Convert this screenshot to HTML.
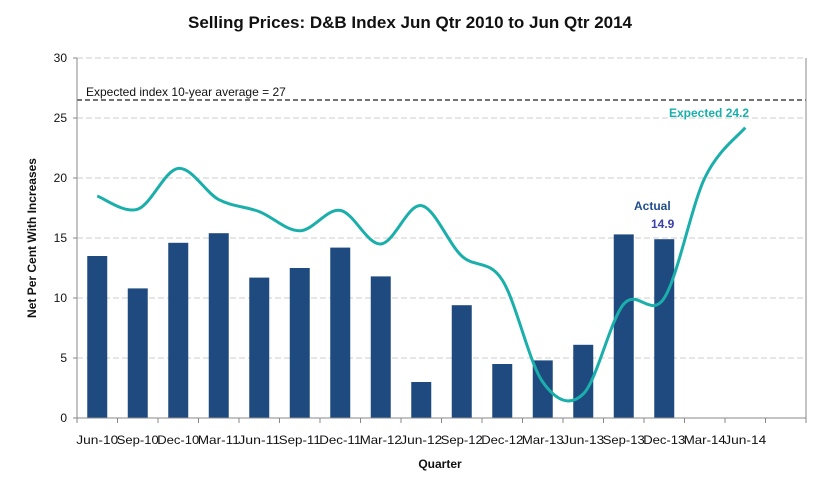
<!DOCTYPE html>
<html><head><meta charset="utf-8"><style>
body{margin:0;background:#fff;font-family:"Liberation Sans",sans-serif}
</style></head><body>
<svg width="821" height="478" xmlns="http://www.w3.org/2000/svg" font-family="Liberation Sans, sans-serif">
<text x="410" y="28" text-anchor="middle" font-size="17" font-weight="bold" fill="#111">Selling Prices: D&amp;B Index Jun Qtr 2010 to Jun Qtr 2014</text>
<g id="grid"></g>
<g id="bars"></g>
<g id="line"></g>
<g id="axes"></g>
<text x="36" y="238" transform="rotate(-90 36 238)" text-anchor="middle" font-size="12" font-weight="bold" fill="#111">Net Per Cent With Increases</text>
<text x="440" y="468" text-anchor="middle" font-size="12" font-weight="bold" fill="#111">Quarter</text>
<text x="86" y="96" font-size="12" fill="#111">Expected index 10-year average = 27</text>
<text x="669" y="117" font-size="12" font-weight="bold" fill="#1aafaa">Expected  24.2</text>
<text x="634" y="210" font-size="12" font-weight="bold" fill="#1f4e8c">Actual</text>
<text x="651" y="228" font-size="12" font-weight="bold" fill="#3b3fa8">14.9</text>
</svg>
<script>
const categories=["Jun-10","Sep-10","Dec-10","Mar-11","Jun-11","Sep-11","Dec-11","Mar-12","Jun-12","Sep-12","Dec-12","Mar-13","Jun-13","Sep-13","Dec-13","Mar-14","Jun-14"];
const actual=[13.5,10.8,14.6,15.4,11.7,12.5,14.2,11.8,3.0,9.4,4.5,4.8,6.1,15.3,14.9];
const expected=[18.5,17.4,20.8,18.2,17.2,15.6,17.3,14.5,17.7,13.5,11.5,3.0,2.0,9.5,10.0,20.0,24.2];
const yTicks=[0,5,10,15,20,25,30];
const average=[26.5];
const NS="http://www.w3.org/2000/svg";
const L=77,R=806,T=58,B=418,slots=18,yMax=30;
const xC=i=>L+(i+0.5)*(R-L)/slots;
const xE=i=>L+i*(R-L)/slots;
const y=v=>B-v/yMax*(B-T);
function mk(tag,a,p){const e=document.createElementNS(NS,tag);for(const k in a)e.setAttribute(k,a[k]);p.appendChild(e);return e;}
const grid=document.getElementById('grid'),bars=document.getElementById('bars'),line=document.getElementById('line'),axes=document.getElementById('axes');
yTicks.forEach(v=>{
 if(v>0){const g=mk('line',{x1:L,x2:R,y1:y(v),y2:y(v),stroke:'#ccc','stroke-dasharray':'6,3'},grid);
 
 }
 const t=mk('text',{x:L-10,y:y(v)+4,'text-anchor':'end','font-size':12,fill:'#111'},axes);t.textContent=v;
 
 
});
average.forEach(v=>{const a=mk('line',{x1:L,x2:R,y1:y(v),y2:y(v),stroke:'#222','stroke-width':1.2,'stroke-dasharray':'5,3'},grid);
 
 });
actual.forEach((v,i)=>{const r=mk('rect',{x:xC(i)-10,y:y(v),width:20,height:B-y(v),fill:'#1f4a7f'},bars);
 
 });
const pts=expected.map((v,i)=>[xC(i),y(v)]);
let d='M'+pts[0][0]+','+pts[0][1];
for(let i=0;i<pts.length-1;i++){const p0=pts[Math.max(0,i-1)],p1=pts[i],p2=pts[i+1],p3=pts[Math.min(pts.length-1,i+2)];
 d+=' C'+(p1[0]+(p2[0]-p0[0])/6)+','+(p1[1]+(p2[1]-p0[1])/6)+' '+(p2[0]-(p3[0]-p1[0])/6)+','+(p2[1]-(p3[1]-p1[1])/6)+' '+p2[0]+','+p2[1];}
const pl=mk('path',{d:d,fill:'none',stroke:'#1aafaa','stroke-width':3},line);


const ax=mk('line',{x1:L,x2:R,y1:B,y2:B,stroke:'#888'},axes);


const ay=mk('line',{x1:L,x2:L,y1:T,y2:B,stroke:'#888'},axes);


const ar=mk('line',{x1:R,x2:R,y1:T,y2:B,stroke:'#888'},axes);


yTicks.forEach(v=>{mk('line',{x1:L-4,x2:L,y1:y(v),y2:y(v),stroke:'#888'},axes);});
for(let i=0;i<=slots;i++)mk('line',{x1:xE(i),x2:xE(i),y1:B,y2:B+5,stroke:'#888'},axes);
categories.forEach((c,i)=>{const t=mk('text',{x:xC(i),y:B+26,'text-anchor':'middle','font-size':12,fill:'#111','textLength':42,'lengthAdjust':'spacingAndGlyphs'},axes);t.textContent=c;
 
 });
</script>
</body></html>
